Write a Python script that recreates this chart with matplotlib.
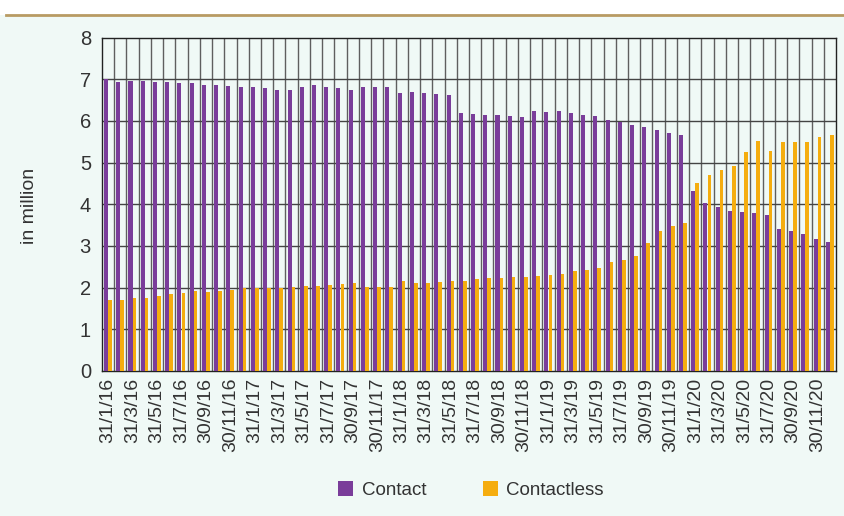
import matplotlib
matplotlib.use("Agg")
import matplotlib.pyplot as plt
import numpy as np
from matplotlib.patches import Rectangle
from matplotlib.lines import Line2D

plt.rcParams["font.family"] = ["Liberation Sans", "DejaVu Sans"]

# monthly values, Jan 2016 .. Dec 2020 (in million)
contact = [
    7.00, 6.94, 6.96, 6.95, 6.94, 6.93, 6.90, 6.91, 6.87, 6.86,
    6.83, 6.81, 6.81, 6.78, 6.75, 6.75, 6.82, 6.86, 6.81, 6.78,
    6.75, 6.81, 6.82, 6.82, 6.67, 6.70, 6.68, 6.65, 6.62, 6.18,
    6.17, 6.14, 6.13, 6.11, 6.09, 6.23, 6.22, 6.23, 6.19, 6.14,
    6.12, 6.02, 5.98, 5.91, 5.86, 5.79, 5.70, 5.65, 4.32, 4.03,
    3.94, 3.85, 3.82, 3.78, 3.74, 3.40, 3.36, 3.29, 3.17, 3.09,
]
contactless = [
    1.70, 1.70, 1.74, 1.76, 1.80, 1.85, 1.87, 1.91, 1.90, 1.92,
    1.94, 1.98, 1.98, 1.98, 1.99, 2.01, 2.03, 2.05, 2.07, 2.08,
    2.10, 2.02, 2.02, 2.02, 2.15, 2.10, 2.12, 2.14, 2.15, 2.17,
    2.21, 2.22, 2.23, 2.26, 2.26, 2.28, 2.30, 2.32, 2.39, 2.43,
    2.48, 2.62, 2.66, 2.75, 3.07, 3.36, 3.47, 3.54, 4.51, 4.70,
    4.82, 4.92, 5.26, 5.52, 5.28, 5.50, 5.50, 5.50, 5.62, 5.65,
]
tick_labels = [
    "31/1/16", "31/3/16", "31/5/16", "31/7/16", "30/9/16", "30/11/16",
    "31/1/17", "31/3/17", "31/5/17", "31/7/17", "30/9/17", "30/11/17",
    "31/1/18", "31/3/18", "31/5/18", "31/7/18", "30/9/18", "30/11/18",
    "31/1/19", "31/3/19", "31/5/19", "31/7/19", "30/9/19", "30/11/19",
    "31/1/20", "31/3/20", "31/5/20", "31/7/20", "30/9/20", "30/11/20",
]

purple = "#7a3d9a"
orange = "#f5ad0f"
bg = "#f0f9f6"
txt = "#333333"

fig = plt.figure(figsize=(8.45, 5.16), dpi=100)
fig.patch.set_facecolor("white")
fig.patches.append(Rectangle((0, 0), 1, 1 - 15 / 516, transform=fig.transFigure,
                             facecolor=bg, edgecolor="none", zorder=-10))
fig.lines.append(Line2D([6 / 845, 1], [1 - 15 / 516] * 2, transform=fig.transFigure,
                        color="#b89b63", lw=2))

ax = fig.add_axes([102 / 845, 1 - 371 / 516, (836 - 102) / 845, (371 - 37.5) / 516])
ax.set_facecolor(bg)

x = np.arange(len(contact))
ax.bar(x - 0.17, contact, width=0.33, color=purple, zorder=3, label="Contact")
ax.bar(x + 0.15, contactless, width=0.30, color=orange, zorder=3, label="Contactless")

for k in range(1, len(contact)):
    ax.axvline(k - 0.5, color="#5f5f5f", lw=1, zorder=1)
for v in range(1, 8):
    ax.axhline(v, color="#444444", lw=1, zorder=1)

ax.set_xlim(-0.5, len(contact) - 0.5)
ax.set_ylim(0, 8)
ax.set_yticks(range(0, 9))
ax.set_xticks(x[::2])
ax.set_xticklabels(tick_labels, rotation=90, fontsize=14, color=txt)
ax.tick_params(axis="y", labelsize=14.5, colors=txt, length=0, pad=8)
ax.tick_params(axis="x", length=0, pad=5)
for s in ax.spines.values():
    s.set_color("#222222")
    s.set_linewidth(1)

fig.text(30 / 845, 1 - 206 / 516, "in million", rotation=90, ha="center", va="center",
         fontsize=14, color=txt)

leg = fig.legend(loc="center", bbox_to_anchor=(471 / 845, 1 - 490 / 516), ncol=2,
                 frameon=False, fontsize=13.5, handlelength=0.8, handleheight=0.8,
                 columnspacing=3.0, handletextpad=0.45)
for t in leg.get_texts():
    t.set_color(txt)

fig.savefig("out.png", dpi=100, facecolor=fig.get_facecolor())
